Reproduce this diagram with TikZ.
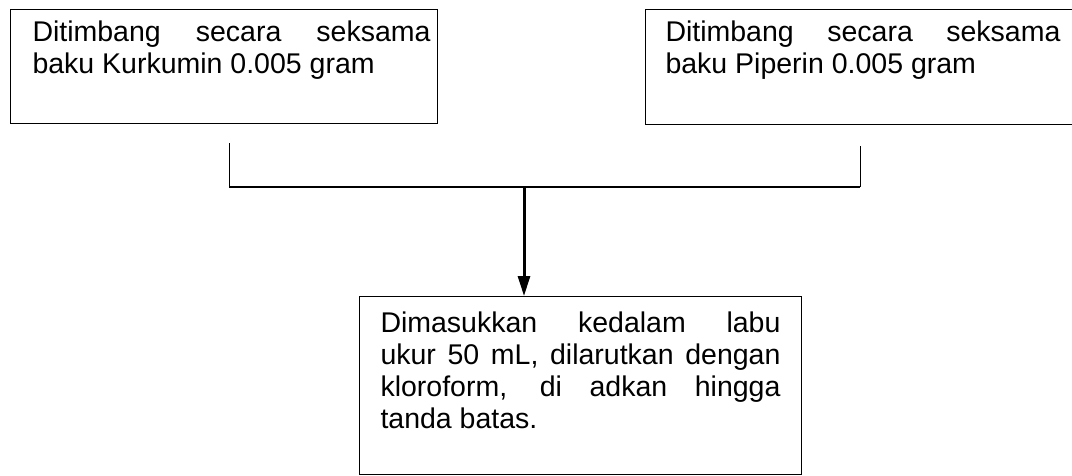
\documentclass[tikz,border=0pt]{standalone}
\usepackage{fontspec}
\setmainfont{Liberation Sans}
\usetikzlibrary{arrows.meta}

\begin{document}
\begin{tikzpicture}[x=1pt,y=-1pt,>={Triangle[length=20pt,width=12pt]},
    stepbox/.style={draw,line width=1pt,anchor=north west,inner sep=0pt,align=justify,
      font=\fontsize{28.5}{32}\selectfont},
    link/.style={line width=1pt}]

  \useasboundingbox (0,0) rectangle (1072,475);

  \node[stepbox,text width=427pt,text height=32pt,text depth=82pt] (kurkumin) at (10,9)
    {\leftskip=22pt \rightskip=7pt \spaceskip=0pt \hyphenpenalty=10000
     Ditimbang secara seksama\linebreak baku Kurkumin 0.005 gram\par};
  \node[stepbox,text width=428pt,text height=32pt,text depth=83pt] (piperin) at (645,9)
    {\leftskip=20pt \rightskip=13pt \spaceskip=0pt \hyphenpenalty=10000
     Ditimbang secara seksama\linebreak baku Piperin 0.005 gram\par};
  \node[stepbox,text width=442pt,text height=36pt,text depth=142pt] (labu) at (359,296)
    {\leftskip=21pt \rightskip=21pt \spaceskip=0pt \hyphenpenalty=10000
     Dimasukkan kedalam labu\linebreak ukur 50 mL, dilarutkan dengan\linebreak
     kloroform, di adkan hingga\linebreak tanda batas.\par};

  \coordinate (kurkumin-end) at (229,143);
  \coordinate (piperin-end) at (860,146);
  \coordinate (join-left) at (229,187);
  \coordinate (join-right) at (860,187);
  \coordinate (join-mid) at (524,187);

  \draw[link] (kurkumin-end) -- (join-left);
  \draw[link] (piperin-end) -- (join-right);
  \draw[link,line width=1.5pt] (join-left) -- (join-right);
  \draw[->,line width=3pt] (join-mid) -- (join-mid |- labu.north);
\end{tikzpicture}
\end{document}
